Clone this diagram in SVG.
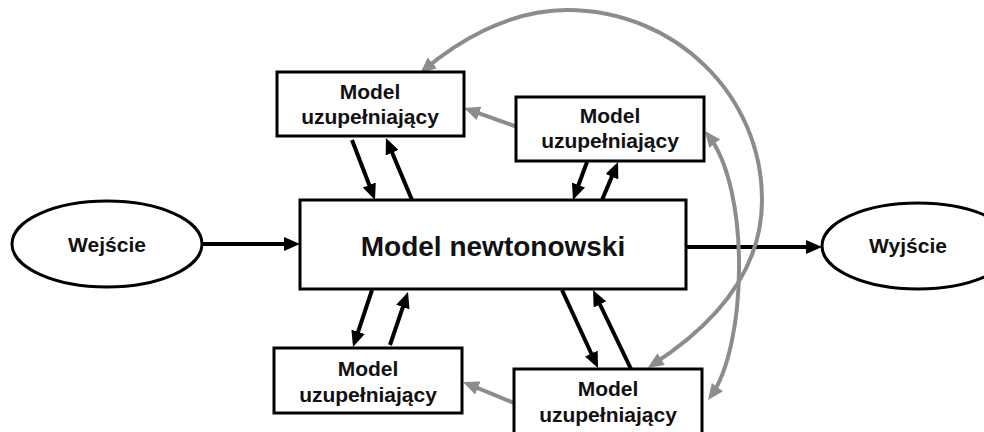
<svg xmlns="http://www.w3.org/2000/svg" width="984" height="432" viewBox="0 0 984 432">
<style>
.box{fill:#fff;stroke:#000;stroke-width:3}
.lbl{font-family:"Liberation Sans",Arial,sans-serif;font-weight:bold;font-size:21px;fill:#111;text-anchor:middle}
.big{font-size:28px}
.blk{fill:none;stroke:#000;stroke-width:4;marker-end:url(#hb)}
.gry{fill:none;stroke:#8c8c8c;stroke-width:4}
</style>
<defs>
<marker id="hb" markerUnits="userSpaceOnUse" viewBox="0 0 16 14" markerWidth="16" markerHeight="14" refX="11" refY="7" orient="auto"><path d="M0,0 L16,7 L0,14 z" fill="#000"/></marker>
<marker id="hg" markerUnits="userSpaceOnUse" viewBox="0 0 16 14" markerWidth="16" markerHeight="14" refX="11" refY="7" orient="auto-start-reverse"><path d="M0,0 L16,7 L0,14 z" fill="#8c8c8c"/></marker>
</defs>
<rect width="984" height="432" fill="#fff"/>
<g id="connectors">
<path class="blk" d="M202,244 L295,244" stroke-width="5"/>
<path class="blk" d="M686,247 L817,247" stroke-width="5"/>
<path class="blk" d="M352,140 L373.2,195.3"/>
<path class="blk" d="M412,200 L387.9,142.6"/>
<path class="blk" d="M587,162 L574.7,195.3"/>
<path class="blk" d="M602,200 L616.1,166.6"/>
<path class="blk" d="M372,290 L354.6,342.3"/>
<path class="blk" d="M390,345 L406.4,296.7"/>
<path class="blk" d="M562,290 L595.9,363.5"/>
<path class="blk" d="M631,369 L595.2,294.5"/>
<path class="gry" d="M520,128 L468.7,109.7" marker-end="url(#hg)"/>
<path class="gry" d="M514,403 L467.6,383.9" marker-end="url(#hg)"/>
<path class="gry" d="M652,365 C727.8,316.4 762,260 762,200 C762,95 674.7,10 567,10 C507,10 454.4,44 424,70" marker-start="url(#hg)" marker-end="url(#hg)"/>
<path class="gry" d="M711,396 C746.4,347.4 751.4,190 708,135" marker-start="url(#hg)" marker-end="url(#hg)"/>
</g>
<g id="wejscie">
<ellipse cx="107" cy="244" rx="95" ry="43" class="box"/>
<text x="107" y="252" class="lbl">Wejście</text>
</g>
<g id="wyjscie">
<ellipse cx="918" cy="246" rx="96" ry="43" class="box"/>
<text x="908" y="253" class="lbl">Wyjście</text>
</g>
<g id="newton">
<rect x="300" y="200" width="386" height="89" class="box"/>
<text x="493" y="256" class="lbl big">Model newtonowski</text>
</g>
<g id="uzup-tl">
<rect x="277" y="72" width="187" height="64" class="box"/>
<text x="370" y="99" class="lbl">Model</text>
<text x="370" y="124" class="lbl">uzupełniający</text>
</g>
<g id="uzup-tr">
<rect x="516" y="97" width="188" height="64" class="box"/>
<text x="610" y="123" class="lbl">Model</text>
<text x="610" y="148" class="lbl">uzupełniający</text>
</g>
<g id="uzup-bl">
<rect x="274" y="348" width="188" height="65" class="box"/>
<text x="368" y="376" class="lbl">Model</text>
<text x="368" y="402" class="lbl">uzupełniający</text>
</g>
<g id="uzup-br">
<rect x="514" y="369" width="188" height="66" class="box"/>
<text x="608" y="396" class="lbl">Model</text>
<text x="608" y="422" class="lbl">uzupełniający</text>
</g>
</svg>
